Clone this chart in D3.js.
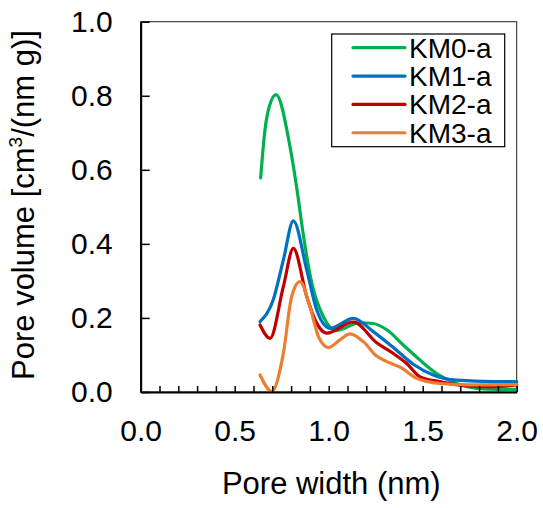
<!DOCTYPE html>
<html>
<head>
<meta charset="utf-8">
<script src="https://cdn.jsdelivr.net/npm/d3@7"></script>
<style>
  body { margin: 0; background: #fff; }
  text { font-family: "Liberation Sans", Arial, sans-serif; fill: #000; }
</style>
</head>
<body>
<script>
// pore width (nm) / pore volume pairs
var km0x = [0.638, 0.661, 0.684, 0.72, 0.794, 0.838, 0.856, 0.91, 0.971, 1.04, 1.166, 1.237, 1.309, 1.397, 1.486, 1.574, 1.68, 1.787, 1.9, 2.0];
var km0y = [0.578, 0.708, 0.771, 0.803, 0.663, 0.523, 0.456, 0.294, 0.204, 0.166, 0.187, 0.185, 0.168, 0.127, 0.086, 0.05, 0.023, 0.01, 0.007, 0.007];
var km1x = [0.635, 0.705, 0.759, 0.812, 0.883, 0.936, 1.007, 1.131, 1.237, 1.344, 1.45, 1.556, 1.68, 1.875, 2.0];
var km1y = [0.19, 0.249, 0.357, 0.462, 0.33, 0.222, 0.172, 0.199, 0.163, 0.12, 0.075, 0.046, 0.032, 0.028, 0.028];
var km2x = [0.635, 0.688, 0.759, 0.812, 0.883, 0.936, 0.989, 1.131, 1.255, 1.344, 1.415, 1.486, 1.59, 1.75, 1.875, 2.0];
var km2y = [0.181, 0.145, 0.285, 0.388, 0.258, 0.186, 0.159, 0.189, 0.133, 0.104, 0.077, 0.041, 0.028, 0.016, 0.014, 0.019];
var km3x = [0.635, 0.697, 0.759, 0.803, 0.847, 0.9, 0.945, 0.998, 1.06, 1.113, 1.184, 1.255, 1.309, 1.38, 1.468, 1.59, 1.75, 2.0];
var km3y = [0.046, 0.002, 0.105, 0.258, 0.298, 0.231, 0.15, 0.12, 0.141, 0.157, 0.136, 0.097, 0.082, 0.067, 0.037, 0.023, 0.019, 0.02];

var names = ['KM0-a', 'KM1-a', 'KM2-a', 'KM3-a'];
var colors = ['#00B050', '#0070C0', '#C00000', '#ED7D31'];
var xTicks = [0, 0.5, 1.0, 1.5, 2.0];
var yTicks = [0, 0.2, 0.4, 0.6, 0.8, 1.0];

var series = [[km0x, km0y], [km1x, km1y], [km2x, km2y], [km3x, km3y]].map(function (s) {
  return s[0].map(function (v, i) { return [v, s[1][i]]; });
});

var width = 543, height = 508;
var pl = 140.7, pr = 516.7, pt = 21.7, pb = 392;
var font = '"Liberation Sans", Arial, sans-serif';

var x = d3.scaleLinear().domain([0, 2]).range([pl, pr]);
var y = d3.scaleLinear().domain([0, 1]).range([pb, pt]);

var svg = d3.select('body').append('svg').attr('width', width).attr('height', height);

// thin frame on top and right
svg.append('rect')
  .attr('x', pl).attr('y', pt)
  .attr('width', pr - pl).attr('height', pb - pt)
  .attr('fill', 'none').attr('stroke', '#222').attr('stroke-width', 1);

var line = d3.line()
  .x(function (d) { return x(d[0]); })
  .y(function (d) { return y(d[1]); })
  .curve(d3.curveMonotoneX);

svg.selectAll('path.series').data(series).enter().append('path')
  .attr('class', 'series')
  .attr('d', line)
  .attr('fill', 'none')
  .attr('stroke', function (d, i) { return colors[i]; })
  .attr('stroke-width', 3.2)
  .attr('stroke-linejoin', 'round')
  .attr('stroke-linecap', 'round');

// x axis: minor ticks every 0.1, pointing inward
var xAxis = d3.axisTop(x).tickValues(d3.range(0, 21).map(function (i) { return i / 10; }))
  .tickSize(6).tickSizeOuter(0).tickFormat('');
var gx = svg.append('g').attr('transform', 'translate(0,' + pb + ')').call(xAxis);
gx.select('.domain').attr('stroke-width', 2);
gx.selectAll('.tick line').attr('stroke-width', 1.5);

var gxl = svg.append('g').attr('transform', 'translate(0,' + pb + ')')
  .call(d3.axisBottom(x).tickValues(xTicks).tickSize(0).tickPadding(28).tickFormat(d3.format('.1f')));
gxl.select('.domain').remove();
gxl.selectAll('text').attr('font-size', 30).attr('font-family', font);

var yAxis = d3.axisRight(y).tickValues(yTicks).tickSize(9).tickSizeOuter(0).tickFormat('');
var gy = svg.append('g').attr('transform', 'translate(' + pl + ',0)').call(yAxis);
gy.select('.domain').attr('stroke-width', 2);
gy.selectAll('.tick line').attr('stroke-width', 1.5);

var gyl = svg.append('g').attr('transform', 'translate(' + pl + ',0)')
  .call(d3.axisLeft(y).tickValues(yTicks).tickSize(0).tickPadding(28).tickFormat(d3.format('.1f')));
gyl.select('.domain').remove();
gyl.selectAll('text').attr('font-size', 30).attr('font-family', font);

// axis titles
svg.append('text')
  .attr('x', 331.3).attr('y', 494)
  .attr('text-anchor', 'middle').attr('font-size', 31)
  .text('Pore width (nm)');

var yt = svg.append('text')
  .attr('transform', 'translate(34,205) rotate(-90)')
  .attr('text-anchor', 'middle').attr('font-size', 31);
yt.append('tspan').text('Pore volume [cm');
yt.append('tspan').attr('font-size', 19).attr('dy', -12).text('3');
yt.append('tspan').attr('dy', 12).text('/(nm g)]');

// legend
var lg = svg.append('g');
lg.append('rect')
  .attr('x', 331.7).attr('y', 34)
  .attr('width', 173).attr('height', 112.7)
  .attr('fill', '#fff').attr('stroke', '#000').attr('stroke-width', 1.2);

var rows = lg.selectAll('g.row').data(names).enter().append('g')
  .attr('class', 'row')
  .attr('transform', function (d, i) { return 'translate(0,' + (47.7 + i * 28.35) + ')'; });
rows.append('line')
  .attr('x1', 353).attr('x2', 405).attr('y1', 0).attr('y2', 0)
  .attr('stroke', function (d, i) { return colors[i]; })
  .attr('stroke-width', 3.2).attr('stroke-linecap', 'round');
rows.append('text')
  .attr('x', 409).attr('y', 10)
  .attr('font-size', 28)
  .text(function (d) { return d; });
</script>
</body>
</html>
